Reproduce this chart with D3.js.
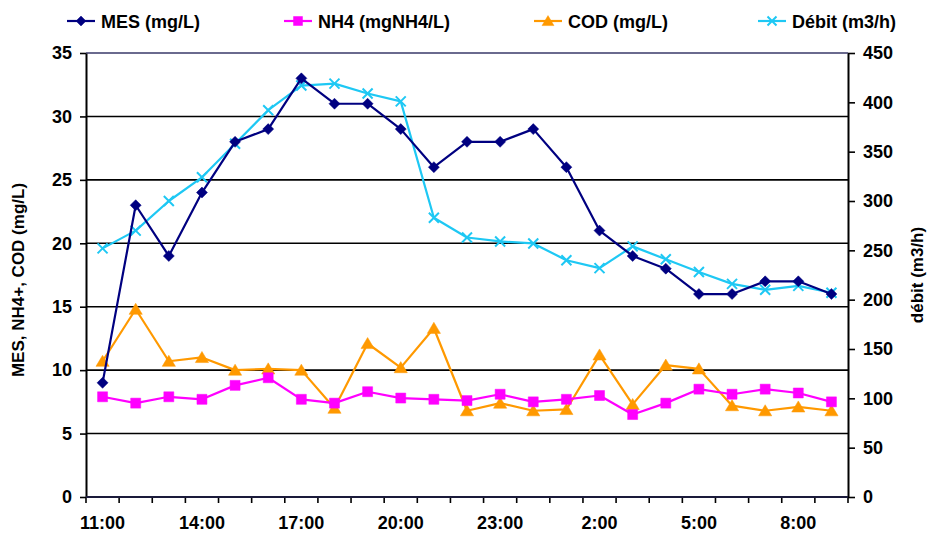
<!DOCTYPE html>
<html><head><meta charset="utf-8">
<script src="https://cdn.jsdelivr.net/npm/d3@7"></script>
<style>
body{margin:0;background:#fff}
svg{display:block}
text{font-family:"Liberation Sans",Arial,sans-serif;font-weight:bold;fill:#000}
</style>
</head><body>
<svg id="c" width="929" height="533"></svg>
<script>
const hours = ["11:00","12:00","13:00","14:00","15:00","16:00","17:00","18:00","19:00","20:00","21:00","22:00","23:00","0:00","1:00","2:00","3:00","4:00","5:00","6:00","7:00","8:00","9:00"];
const tickLabels = ["11:00","14:00","17:00","20:00","23:00","2:00","5:00","8:00"];
const mes   = [9,23,19,24,28,29,33,31,31,29,26,28,28,29,26,21,19,18,16,16,17,17,16];
const nh4   = [7.9,7.4,7.9,7.7,8.8,9.4,7.7,7.4,8.3,7.8,7.7,7.6,8.1,7.5,7.7,8.0,6.5,7.4,8.5,8.1,8.5,8.2,7.5];
const cod   = [10.7,14.8,10.7,11.0,10.0,10.1,10.0,7.0,12.1,10.2,13.3,6.8,7.4,6.8,6.9,11.2,7.3,10.4,10.1,7.2,6.8,7.1,6.8];
const debit = [252,270,300,324,358,392,417,419,409,401,283,263,259,257,240,232,254,241,228,216,210,214,207];
const leftTicks = [0,5,10,15,20,25,30,35];
const rightTicks = [0,50,100,150,200,250,300,350,400,450];
const gridValues = [5,10,15,20,25,30];
const seriesNames = ["MES (mg/L)","NH4 (mgNH4/L)","COD (mg/L)","Débit (m3/h)"];
const leftTitle = "MES, NH4+, COD (mg/L)";
const rightTitle = "débit (m3/h)";

const svg = d3.select("#c");
const L = 86, R = 848, T = 53, B = 497;
const x = d3.scaleBand().domain(hours).range([L, R]);
const cx = h => x(h) + x.bandwidth()/2;
const yL = d3.scaleLinear().domain([0,35]).range([B,T]);
const yR = d3.scaleLinear().domain([0,450]).range([B,T]);

// gridlines
svg.append("g").selectAll("line").data(gridValues).join("line")
  .attr("x1", L).attr("x2", R).attr("y1", d=>yL(d)).attr("y2", d=>yL(d))
  .attr("stroke","#000").attr("stroke-width",1.6);
svg.append("line").attr("x1",L).attr("x2",R).attr("y1",yL(35)).attr("y2",yL(35))
  .attr("stroke","#6a6a8e").attr("stroke-width",2);

// axes
const ga = svg.append("g").attr("transform",`translate(${L},0)`)
  .call(d3.axisLeft(yL).tickValues(leftTicks).tickSize(6).tickPadding(8).tickSizeOuter(0));
const gr = svg.append("g").attr("transform",`translate(${R},0)`)
  .call(d3.axisRight(yR).tickValues(rightTicks).tickSize(7).tickPadding(8).tickSizeOuter(0));
const gb = svg.append("g").attr("transform",`translate(0,${B})`)
  .call(d3.axisBottom(x).tickValues(tickLabels).tickSize(0).tickPadding(19));
gb.select(".domain").remove();
// category boundary ticks
const bounds = hours.map(h=>x(h)).concat([R]);
svg.append("g").selectAll("line").data(bounds).join("line")
  .attr("x1",d=>d).attr("x2",d=>d).attr("y1",B).attr("y2",B+6)
  .attr("stroke","#000").attr("stroke-width",1.6);
svg.append("line").attr("x1",L).attr("x2",R).attr("y1",B).attr("y2",B)
  .attr("stroke","#1a1a3a").attr("stroke-width",2);

[ga,gr,gb].forEach(g=>{
  g.selectAll("text").style("font-size","18px");
  g.selectAll(".domain").attr("stroke","#000").attr("stroke-width",2);
  g.selectAll(".tick line").attr("stroke","#000").attr("stroke-width",1.6);
  g.attr("font-family",null).attr("font-size",null);
});

// titles
svg.append("text").attr("transform",`translate(24,${(T+B)/2 + 5}) rotate(-90)`)
  .attr("text-anchor","middle").style("font-size","17px").text(leftTitle);
svg.append("text").attr("transform",`translate(923,${(T+B)/2}) rotate(-90)`)
  .attr("text-anchor","middle").style("font-size","17px").text(rightTitle);

// marker shapes
const shapes = {
  diamond: s => `M0,${-s}L${s},0L0,${s}L${-s},0Z`,
  square: s => `M${-s},${-s}H${s}V${s}H${-s}Z`,
  triangle: s => `M0,${-s}L${s*1.1},${s*0.85}L${-s*1.1},${s*0.85}Z`,
  cross: s => `M${-s},${-s}L${s},${s}M${-s},${s}L${s},${-s}`
};

const series = [
  {name:seriesNames[0], data:mes,   y:yL, color:"#000080", shape:"diamond",  size:5.5, fill:true},
  {name:seriesNames[1], data:nh4,   y:yL, color:"#ff00ff", shape:"square",   size:5,   fill:true},
  {name:seriesNames[2], data:cod,   y:yL, color:"#ff9900", shape:"triangle", size:6,   fill:true},
  {name:seriesNames[3], data:debit, y:yR, color:"#1ec8f4", shape:"cross",    size:5,   fill:false}
];
const drawOrder = [3,2,1,0];
drawOrder.forEach(i=>{
  const s = series[i];
  const line = d3.line().x((d,j)=>cx(hours[j])).y(d=>s.y(d));
  svg.append("path").datum(s.data).attr("d",line)
    .attr("fill","none").attr("stroke",s.color).attr("stroke-width",2.2).attr("stroke-linejoin","round");
  svg.append("g").selectAll("path").data(s.data).join("path")
    .attr("transform",(d,j)=>`translate(${cx(hours[j])},${s.y(d)})`)
    .attr("d",shapes[s.shape](s.size))
    .attr("fill",s.fill?s.color:"none")
    .attr("stroke",s.color).attr("stroke-width",s.fill?0.5:2);
});

// legend
const legTextX = [101,318,568,792];
const legY = 21;
series.forEach((s,i)=>{
  const g = svg.append("g");
  const mx = legTextX[i]-20;
  g.append("line").attr("x1",mx-14).attr("x2",mx+14).attr("y1",legY).attr("y2",legY)
    .attr("stroke",s.color).attr("stroke-width",2.2);
  g.append("path").attr("transform",`translate(${mx},${legY})`).attr("d",shapes[s.shape](s.size*0.9))
    .attr("fill",s.fill?s.color:"none").attr("stroke",s.color).attr("stroke-width",s.fill?0.5:2);
  g.append("text").attr("x",legTextX[i]).attr("y",legY+6.5).style("font-size","18px").text(s.name);
});
</script>
</body></html>
